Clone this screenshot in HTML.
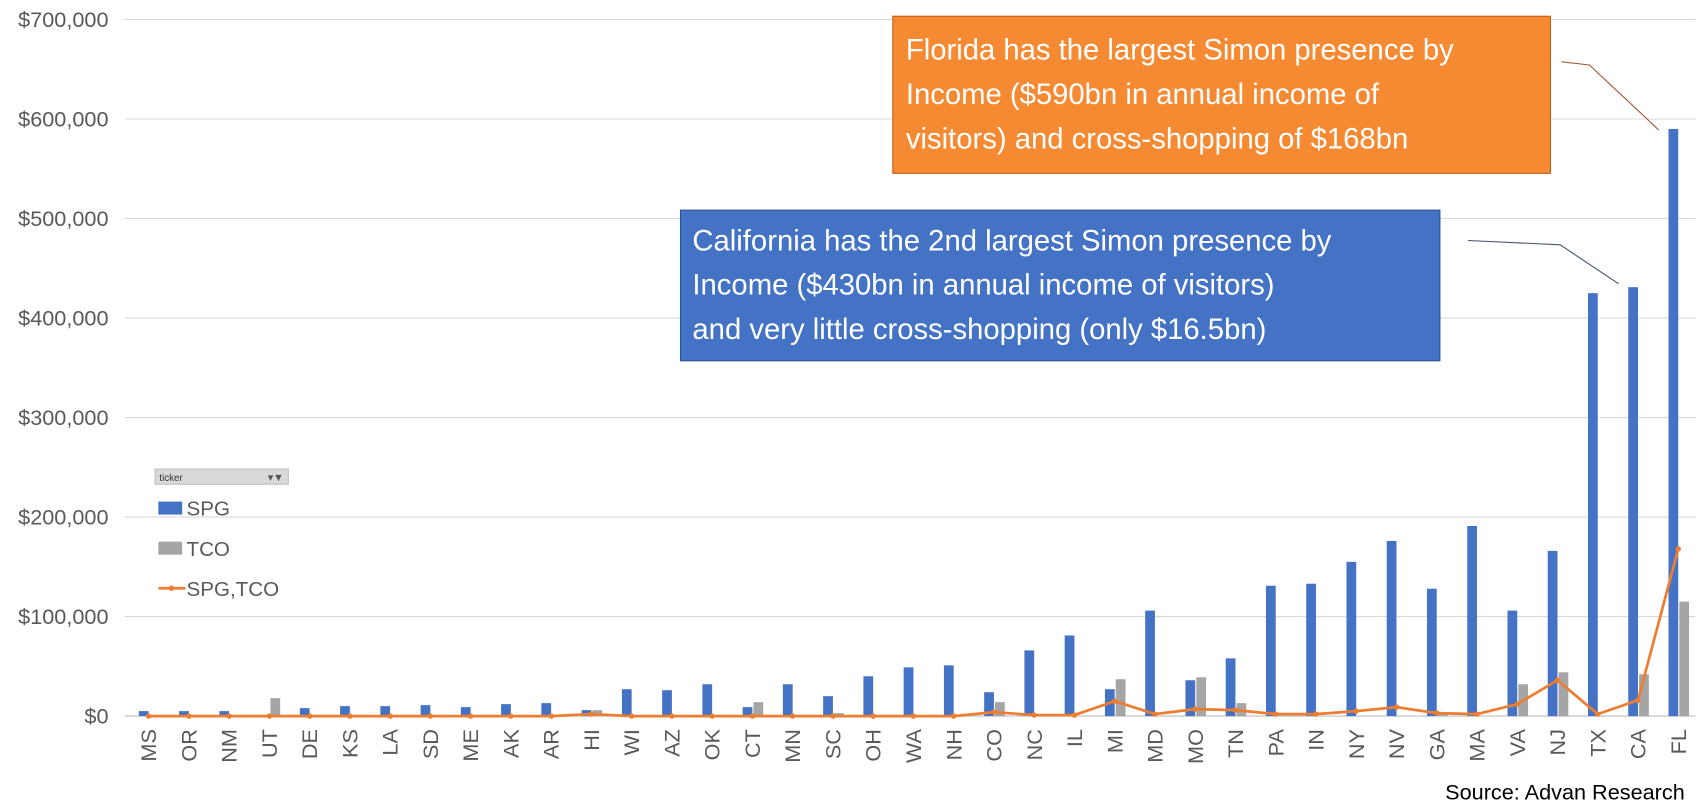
<!DOCTYPE html>
<html><head><meta charset="utf-8"><style>
html,body{margin:0;background:#fff;width:1699px;height:806px;overflow:hidden;}
svg{display:block;}
svg text{font-family:"Liberation Sans",sans-serif;}
</style></head><body>
<svg id="c" width="1699" height="806" viewBox="0 0 1568 744" xmlns="http://www.w3.org/2000/svg" style="position:absolute;left:0;top:0"></svg>
<script>
const categories=["MS","OR","NM","UT","DE","KS","LA","SD","ME","AK","AR","HI","WI","AZ","OK","CT","MN","SC","OH","WA","NH","CO","NC","IL","MI","MD","MO","TN","PA","IN","NY","NV","GA","MA","VA","NJ","TX","CA","FL"];
const spgValues=[5,5,5,0,8,10,10,11,9,12,13,6,27,26,32,9,32,20,40,49,51,24,66,81,27,106,36,58,131,133,155,176,128,191,106,166,425,431,590];
const tcoValues=[0,0,0,18,0,0,0,0,0,0,0,6,0,0,0,14,0,3,0,0,0,14,0,0,37,0,39,13,0,0,0,0,2,0,32,44,0,42,115];
const lineValues=[0,0,0,0,0,0,0,0,0,0,0,2,0,0,0,0,0,0,0,0,0,4,1,1,15,2,7,6,2,2,5,9,3,2,12,36,2,16,168];
const yTicks=[0,100,200,300,400,500,600,700];
const yTickLabels=["$0","$100,000","$200,000","$300,000","$400,000","$500,000","$600,000","$700,000"];
const svg=document.getElementById('c');const NS="http://www.w3.org/2000/svg";
function mk(t,a,p){const e=document.createElementNS(NS,t);for(const k in a)e.setAttribute(k,a[k]);(p||svg).appendChild(e);return e;}
const y0=661,pxPer=91.86/100,x0=137,step=(1549-137)/38;
const yS=v=>y0-v*pxPer, xS=i=>x0+i*step;
yTicks.forEach((t,i)=>{
 const l=mk('line',{x1:115,x2:1565,y1:yS(t),y2:yS(t),stroke:i==0?'#bfbfbf':'#d9d9d9','stroke-width':1});
 
 const tx=mk('text',{x:100,y:yS(t)+7,'text-anchor':'end','font-size':20,fill:'#595959'});tx.textContent=yTickLabels[i];
 
});
categories.forEach((c,i)=>{
 const x=xS(i);
 const b=mk('rect',{x:x-9,y:yS(spgValues[i]),width:9,height:spgValues[i]*pxPer,fill:'#4472c4'});
 
 const g=mk('rect',{x:x+1,y:yS(tcoValues[i]),width:9,height:tcoValues[i]*pxPer,fill:'#a5a5a5'});
 
 const t=mk('text',{x:0,y:0,'font-size':20,fill:'#595959','text-anchor':'end',transform:`translate(${x+7},${673}) rotate(-90)`});t.textContent=c;
 
});
const pts=lineValues.map((v,i)=>xS(i)+','+yS(v)).join(' ');
const pl=mk('polyline',{points:pts,fill:'none',stroke:'#ed7d31','stroke-width':2.5});

lineValues.forEach((v,i)=>{const d=mk('circle',{cx:xS(i),cy:yS(v),r:2.5,fill:'#ed7d31'});
 });
</script>
<svg style="position:absolute;left:0;top:0" width="1699" height="806" viewBox="0 0 1568 744" xmlns="http://www.w3.org/2000/svg">
 <rect x="143" y="433" width="123" height="14" fill="#d9d9d9" stroke="#bfbfbf"/>
 <text x="147" y="444" font-size="9" fill="#333">ticker</text>
 <text x="247" y="444" font-size="10" fill="#555">▾▼</text>
 <rect x="146" y="463" width="22" height="12" fill="#4472c4"/>
 <text x="172" y="476" font-size="19" fill="#595959">SPG</text>
 <rect x="146" y="500" width="22" height="12" fill="#a5a5a5"/>
 <text x="172" y="513" font-size="19" fill="#595959">TCO</text>
 <line x1="146" y1="543" x2="171" y2="543" stroke="#ed7d31" stroke-width="2.5"/>
 <circle cx="158" cy="543" r="2.5" fill="#ed7d31"/>
 <text x="172" y="550" font-size="19" fill="#595959">SPG,TCO</text>
 <polyline points="1441,57 1467,60 1531,120" fill="none" stroke="#a0522d" stroke-width="1"/>
 <polyline points="1355,222 1440,226 1494,262" fill="none" stroke="#44546a" stroke-width="1"/>
 <g>
  <rect x="824" y="15" width="607" height="145" fill="#f58a33" stroke="#c55a11" stroke-width="1"/>
  <text font-size="27" fill="#fff"><tspan x="836" y="55">Florida has the largest Simon presence by</tspan><tspan x="836" y="96">Income ($590bn in annual income of</tspan><tspan x="836" y="137">visitors) and cross-shopping of $168bn</tspan></text>
 </g>
 <g>
  <rect x="628" y="194" width="701" height="139" fill="#4472c4" stroke="#2f528f" stroke-width="1"/>
  <text font-size="27" fill="#fff"><tspan x="639" y="231">California has the 2nd largest Simon presence by</tspan><tspan x="639" y="272">Income ($430bn in annual income of visitors)</tspan><tspan x="639" y="313">and very little cross-shopping (only $16.5bn)</tspan></text>
 </g>
 <text x="1555" y="738" font-size="20" fill="#000" text-anchor="end">Source: Advan Research</text>
</svg>
</body></html>
